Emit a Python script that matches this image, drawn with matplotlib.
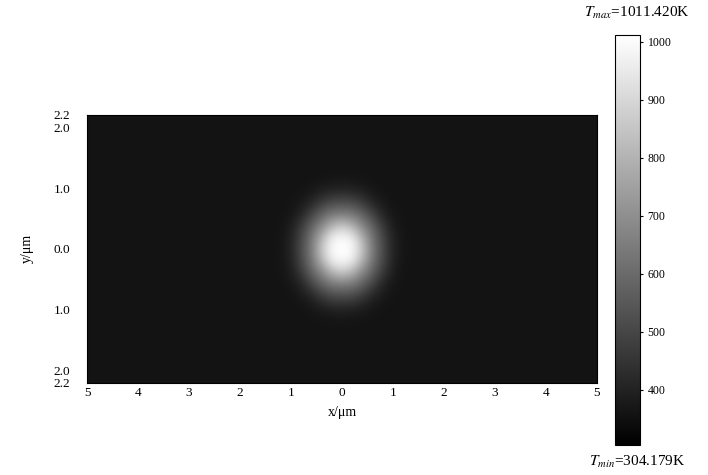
import numpy as np
import matplotlib
matplotlib.use("Agg")
import matplotlib.pyplot as plt

plt.rcParams['font.family'] = ['Liberation Serif', 'DejaVu Serif']
plt.rcParams['mathtext.fontset'] = 'stix'

# temperature field (K): flat background with a hot spot at the origin
t_min = 304.179
t_max = 1011.420
t_background = 358.0
x_range = (-5.0, 5.0)
y_range = (-2.2, 2.2)
grid_step = 0.2

# spot patch, 0.2 um spacing, -1.2 .. 1.2 in x and y
spot_patch = [
    [358, 358, 358, 358, 360, 363, 365, 363, 360, 358, 358, 358, 358],
    [358, 358, 358, 370, 390, 405, 410, 405, 390, 370, 358, 358, 358],
    [358, 358, 380, 410, 470, 510, 520, 510, 470, 410, 380, 358, 358],
    [358, 370, 410, 495, 580, 635, 650, 635, 580, 495, 410, 370, 358],
    [360, 390, 470, 580, 680, 800, 860, 800, 680, 580, 470, 390, 360],
    [363, 405, 510, 635, 800, 970, 1000, 970, 800, 635, 510, 405, 363],
    [365, 410, 520, 650, 860, 1000, 1011, 1000, 860, 650, 520, 410, 365],
    [363, 405, 510, 635, 800, 970, 1000, 970, 800, 635, 510, 405, 363],
    [360, 390, 470, 580, 680, 800, 860, 800, 680, 580, 470, 390, 360],
    [358, 370, 410, 495, 580, 635, 650, 635, 580, 495, 410, 370, 358],
    [358, 358, 380, 410, 470, 510, 520, 510, 470, 410, 380, 358, 358],
    [358, 358, 358, 370, 390, 405, 410, 405, 390, 370, 358, 358, 358],
    [358, 358, 358, 358, 360, 363, 365, 363, 360, 358, 358, 358, 358],
]
spot_center = (0.0, 0.0)

x_ticks = [-5, -4, -3, -2, -1, 0, 1, 2, 3, 4, 5]
x_ticklabels = ["5", "4", "3", "2", "1", "0", "1", "2", "3", "4", "5"]
y_ticks = [2.2, 2.0, 1.0, 0.0, -1.0, -2.0, -2.2]
y_ticklabels = ["2.2", "2.0", "1.0", "0.0", "1.0", "2.0", "2.2"]
cbar_ticks = [400, 500, 600, 700, 800, 900, 1000]


if __name__ == "__main__":
    nx = int(round((x_range[1] - x_range[0]) / grid_step)) + 1
    ny = int(round((y_range[1] - y_range[0]) / grid_step)) + 1
    field = np.full((ny, nx), t_background)
    patch = np.array(spot_patch, dtype=float)
    ph, pw = patch.shape
    ci = int(round((spot_center[0] - x_range[0]) / grid_step))
    cj = int(round((spot_center[1] - y_range[0]) / grid_step))
    field[cj - ph // 2:cj + ph // 2 + 1, ci - pw // 2:ci + pw // 2 + 1] = patch

    fig = plt.figure(figsize=(7.08, 4.75), dpi=100, facecolor='w')
    ax = fig.add_axes([0.123, 0.194, 0.72, 0.564])
    im = ax.imshow(field, cmap='gray', vmin=t_min, vmax=t_max,
                   extent=[x_range[0], x_range[1], y_range[0], y_range[1]],
                   origin='lower', aspect='auto', interpolation='bicubic')
    ax.set_xlim(*x_range)
    ax.set_ylim(*y_range)
    ax.set_xticks(x_ticks)
    ax.set_xticklabels(x_ticklabels)
    ax.set_yticks(y_ticks)
    ax.set_yticklabels(y_ticklabels)
    ax.tick_params(axis='x', length=0, labelsize=9.5, pad=3)
    ax.tick_params(axis='y', length=0, labelsize=9.5, pad=12)
    ax.set_xlabel("x/μm", fontsize=10, labelpad=5)
    ax.set_ylabel("y/μm", fontsize=10, labelpad=14)

    cax = fig.add_axes([0.869, 0.063, 0.035, 0.863])
    cb = fig.colorbar(im, cax=cax, ticks=cbar_ticks)
    cb.ax.tick_params(labelsize=8.5, length=2)
    cb.outline.set_linewidth(0.8)

    fig.text(0.9, 0.972, r"$T_{max}$=1011.420K", fontsize=11, ha='center', va='center')
    fig.text(0.9, 0.027, r"$T_{min}$=304.179K", fontsize=11, ha='center', va='center')

    fig.savefig("out.png", dpi=100)
